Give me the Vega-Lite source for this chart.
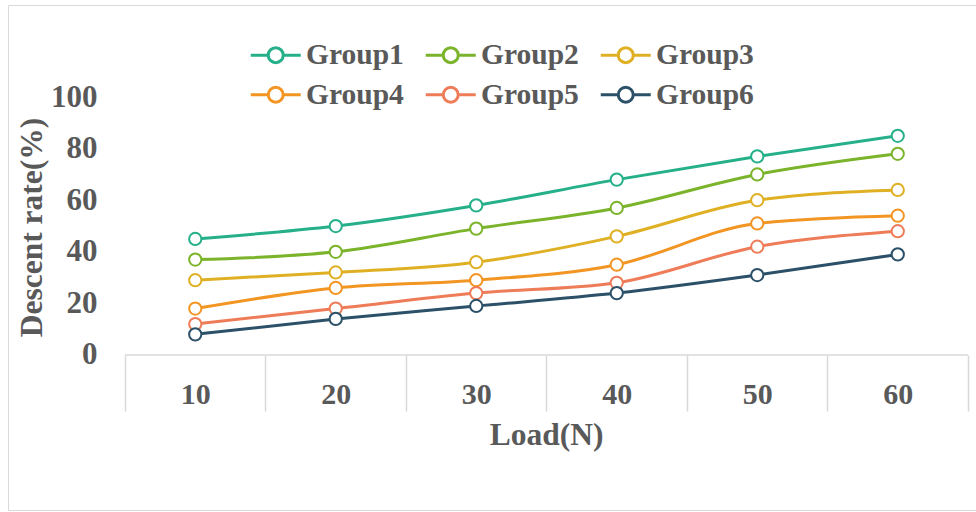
{
  "$schema": "https://vega.github.io/schema/vega-lite/v6.json",
  "autosize": {"type": "none"},
  "width": 968,
  "height": 505,
  "padding": {"left": 8, "top": 5, "right": 0, "bottom": 2},
  "background": "white",
  "config": {
    "view": {"stroke": "#D9D9D9", "strokeWidth": 1},
    "font": "Liberation Serif"
  },
  "data": {
    "values": [
      {"Load": "10", "Group": "Group1", "Rate": 45},
      {"Load": "20", "Group": "Group1", "Rate": 50},
      {"Load": "30", "Group": "Group1", "Rate": 58},
      {"Load": "40", "Group": "Group1", "Rate": 68},
      {"Load": "50", "Group": "Group1", "Rate": 77},
      {"Load": "60", "Group": "Group1", "Rate": 85},
      {"Load": "10", "Group": "Group2", "Rate": 37},
      {"Load": "20", "Group": "Group2", "Rate": 40},
      {"Load": "30", "Group": "Group2", "Rate": 49},
      {"Load": "40", "Group": "Group2", "Rate": 57},
      {"Load": "50", "Group": "Group2", "Rate": 70},
      {"Load": "60", "Group": "Group2", "Rate": 78},
      {"Load": "10", "Group": "Group3", "Rate": 29},
      {"Load": "20", "Group": "Group3", "Rate": 32},
      {"Load": "30", "Group": "Group3", "Rate": 36},
      {"Load": "40", "Group": "Group3", "Rate": 46},
      {"Load": "50", "Group": "Group3", "Rate": 60},
      {"Load": "60", "Group": "Group3", "Rate": 64},
      {"Load": "10", "Group": "Group4", "Rate": 18},
      {"Load": "20", "Group": "Group4", "Rate": 26},
      {"Load": "30", "Group": "Group4", "Rate": 29},
      {"Load": "40", "Group": "Group4", "Rate": 35},
      {"Load": "50", "Group": "Group4", "Rate": 51},
      {"Load": "60", "Group": "Group4", "Rate": 54},
      {"Load": "10", "Group": "Group5", "Rate": 12},
      {"Load": "20", "Group": "Group5", "Rate": 18},
      {"Load": "30", "Group": "Group5", "Rate": 24},
      {"Load": "40", "Group": "Group5", "Rate": 28},
      {"Load": "50", "Group": "Group5", "Rate": 42},
      {"Load": "60", "Group": "Group5", "Rate": 48},
      {"Load": "10", "Group": "Group6", "Rate": 8},
      {"Load": "20", "Group": "Group6", "Rate": 14},
      {"Load": "30", "Group": "Group6", "Rate": 19},
      {"Load": "40", "Group": "Group6", "Rate": 24},
      {"Load": "50", "Group": "Group6", "Rate": 31},
      {"Load": "60", "Group": "Group6", "Rate": 39}
    ]
  },
  "encoding": {
    "x": {
      "field": "Load",
      "type": "nominal",
      "sort": ["10", "20", "30", "40", "50", "60"],
      "scale": {"paddingInner": 0, "paddingOuter": 0.4448, "align": 0.936},
      "axis": {
        "title": "Load(N)",
        "orient": "bottom",
        "offset": -155,
        "domain": false,
        "grid": false,
        "labelAngle": 0,
        "ticks": true,
        "tickBand": "extent",
        "tickSize": 56,
        "tickColor": "#D9D9D9",
        "tickWidth": 1.5,
        "labelFont": "Liberation Serif",
        "labelFontWeight": "bold",
        "labelFontSize": 30,
        "labelColor": "#595959",
        "labelBaseline": "alphabetic",
        "labelPadding": -8,
        "titleFont": "Liberation Serif",
        "titleFontWeight": "bold",
        "titleFontSize": 31.5,
        "titleColor": "#595959",
        "titleX": 538,
        "titleY": 89,
        "titleBaseline": "alphabetic"
      }
    },
    "y": {
      "field": "Rate",
      "type": "quantitative",
      "scale": {"domain": [-60.1, 135.7], "nice": false, "zero": false},
      "axis": {
        "title": "Descent rate(%)",
        "values": [0, 20, 40, 60, 80, 100],
        "offset": -117,
        "domain": false,
        "ticks": false,
        "grid": false,
        "labelFont": "Liberation Serif",
        "labelFontWeight": "bold",
        "labelFontSize": 31,
        "labelColor": "#595959",
        "labelPadding": 28,
        "titleFont": "Liberation Serif",
        "titleFontWeight": "bold",
        "titleFontSize": 31.5,
        "titleColor": "#595959",
        "titleX": -93,
        "titleY": 222,
        "titleBaseline": "middle"
      }
    }
  },
  "layer": [
    {
      "mark": {"type": "bar", "fill": null, "stroke": "#D9D9D9", "strokeWidth": 1.5},
      "encoding": {
        "y": {"datum": 0},
        "y2": {"datum": 0},
        "detail": {"field": "Load"}
      },
      "transform": [{"filter": "datum.Group === 'Group1'"}]
    },
    {
      "mark": {"type": "line", "interpolate": "monotone", "strokeWidth": 3},
      "encoding": {
        "stroke": {
          "field": "Group",
          "type": "nominal",
          "scale": {
            "domain": ["Group1", "Group2", "Group3", "Group4", "Group5", "Group6"],
            "range": ["#25B08A", "#7BB42B", "#E0B024", "#F29522", "#EE7C58", "#2B5068"]
          },
          "legend": {
            "title": null,
            "orient": "none",
            "direction": "horizontal",
            "columns": 3,
            "legendX": 253,
            "legendY": 35,
            "padding": 0,
            "columnPadding": 15,
            "rowPadding": 9,
            "symbolType": "M-2,0H-0.6M0.6,0H2M-0.6,0A0.6,0.6,0,1,1,0.6,0A0.6,0.6,0,1,1,-0.6,0Z",
            "symbolSize": 625,
            "symbolStrokeWidth": 3,
            "symbolFillColor": "white",
            "symbolOpacity": 1,
            "labelOffset": 15.5,
            "labelFont": "Liberation Serif",
            "labelFontWeight": "bold",
            "labelFontSize": 29.5,
            "labelColor": "#595959",
            "labelLimit": 300
          }
        }
      }
    },
    {
      "mark": {"type": "point", "shape": "circle", "filled": true, "fill": "white", "size": 150, "strokeWidth": 2, "opacity": 1},
      "encoding": {
        "stroke": {"field": "Group", "type": "nominal"}
      }
    }
  ]
}
